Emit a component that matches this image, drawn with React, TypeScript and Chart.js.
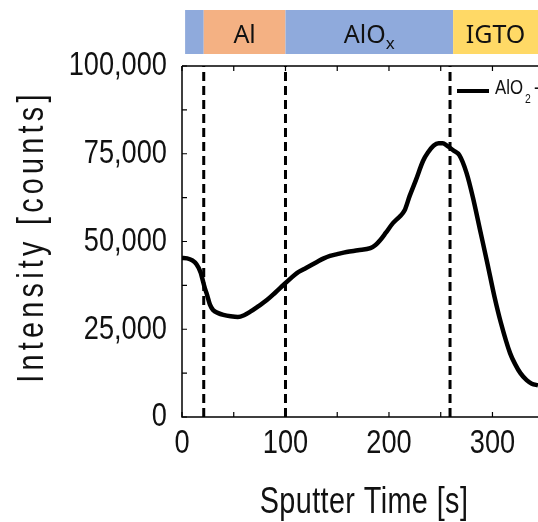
import React, { useEffect, useRef } from "react";
import { Chart, registerables } from "chart.js";

Chart.register(...registerables);

// Sputter time [s]
const timeS = [0, 5, 10, 14, 18, 20, 22, 24, 27, 30, 35, 40, 47, 54, 60, 66, 74, 82, 90, 98, 105, 111, 117, 122, 130, 137, 143, 150, 159, 170, 182, 187, 191, 197, 204, 210, 215, 220, 226, 233, 238, 243, 248, 252, 256, 262, 268, 275, 281, 288, 295, 302, 308, 317, 322, 327, 333, 338, 344];
// AlO2- intensity [counts]
const intensity = [45300, 45200, 44600, 43500, 41200, 39000, 36800, 35000, 32000, 30500, 29600, 29100, 28700, 28500, 29000, 30000, 31600, 33300, 35400, 37600, 39500, 41000, 42000, 42800, 44100, 45200, 45900, 46400, 47000, 47500, 48100, 49000, 50200, 52500, 55300, 57000, 58800, 63000, 67500, 73000, 75500, 77300, 78000, 78000, 77300, 76000, 74600, 69500, 62700, 53300, 43900, 34200, 27000, 18200, 15000, 12500, 10500, 9500, 9000];

// Interface markers (dashed lines)
const interfaceTimes = [21, 100, 259];

// Layer bar on top
const layerNames = ["", "Al", "AlO", "IGTO"];
const layerSubs = ["", "", "x", ""];
const layerStart = [3, 21, 100, 262];
const layerEnd = [21, 100, 262, 344];
const layerColors = ["#8FAADC", "#F4B183", "#8FAADC", "#FFD966"];

const xMin = 0;
const xMax = 344;
const yMin = 0;
const yMax = 100000;
const xMajor = [0, 100, 200, 300];
const xMinor = [50, 150, 250];
const yMajor = [0, 25000, 50000, 75000, 100000];
const yMinor = [12500, 37500, 62500, 87500];
const xTitle = "Sputter Time [s]";
const yTitle = "Intensity [counts]";
const legendLabel = "AlO";
const legendSub = "2";
const legendSup = "-";

const FONT = '"Liberation Sans", Arial, sans-serif';
const SQ = 0.8;

function narrow(
  ctx: CanvasRenderingContext2D,
  text: string,
  x: number,
  y: number,
  size: number,
  align: CanvasTextAlign,
  baseline: CanvasTextBaseline,
  rot = 0,
  spacing = 0
) {
  ctx.save();
  ctx.translate(x, y);
  if (rot) ctx.rotate(rot);
  ctx.scale(SQ, 1);
  ctx.font = `${size}px ${FONT}`;
  (ctx as any).letterSpacing = `${spacing}px`;
  ctx.textAlign = align;
  ctx.textBaseline = baseline;
  ctx.fillStyle = "#111";
  ctx.fillText(text, 0, 0);
  ctx.restore();
}

function narrowWidth(ctx: CanvasRenderingContext2D, text: string, size: number) {
  ctx.save();
  ctx.font = `${size}px ${FONT}`;
  const w = ctx.measureText(text).width * SQ;
  ctx.restore();
  return w;
}

const decorPlugin = {
  id: "decor",
  afterDatasetsDraw(chart: any) {
    const { ctx, chartArea: a, scales } = chart;
    const xs = scales.x;
    const ys = scales.y;
    ctx.save();
    // frame
    ctx.strokeStyle = "#000";
    ctx.lineWidth = 1.5;
    ctx.beginPath();
    ctx.moveTo(a.left, a.top);
    ctx.lineTo(a.left, a.bottom);
    ctx.lineTo(a.right, a.bottom);
    ctx.moveTo(a.left, a.top);
    ctx.lineTo(a.right, a.top);
    ctx.stroke();
    // ticks (inward)
    ctx.lineWidth = 1.2;
    ctx.beginPath();
    [...xMajor, ...xMinor].forEach((v) => {
      const px = xs.getPixelForValue(v);
      ctx.moveTo(px, a.bottom);
      ctx.lineTo(px, a.bottom - 5);
      ctx.moveTo(px, a.top);
      ctx.lineTo(px, a.top + 5);
    });
    [...yMajor, ...yMinor].forEach((v) => {
      const py = ys.getPixelForValue(v);
      ctx.moveTo(a.left, py);
      ctx.lineTo(a.left + 5, py);
    });
    ctx.stroke();

    // tick labels
    xMajor.forEach((v) => {
      narrow(ctx, String(v), xs.getPixelForValue(v), 453, 34, "center", "alphabetic");
    });
    yMajor.forEach((v) => {
      narrow(ctx, v.toLocaleString("en-US"), a.left - 15, ys.getPixelForValue(v), 34, "right", "middle");
    });

    // axis titles
    narrow(ctx, xTitle, (a.left + a.right) / 2 + 4, 513, 36, "center", "alphabetic", 0, 0.5);
    narrow(ctx, yTitle, 43, (a.top + a.bottom) / 2 - 5, 36, "center", "alphabetic", -Math.PI / 2, 5.3);

    // layer bar
    const barTop = 10;
    const barBot = 54;
    for (let i = 0; i < layerNames.length; i++) {
      const x0 = xs.getPixelForValue(layerStart[i]);
      const x1 = i === layerNames.length - 1 ? chart.width : xs.getPixelForValue(layerEnd[i]);
      ctx.fillStyle = layerColors[i];
      ctx.fillRect(x0, barTop, x1 - x0, barBot - barTop);
      if (layerNames[i]) {
        ctx.fillStyle = "#111";
        ctx.textBaseline = "alphabetic";
        const main = layerNames[i];
        const sub = layerSubs[i];
        ctx.font = '25px "Noto Sans", sans-serif';
        const wMain = ctx.measureText(main).width;
        ctx.font = '17px "Noto Sans", sans-serif';
        const wSub = sub ? ctx.measureText(sub).width : 0;
        const cx = (x0 + x1) / 2;
        const start = cx - (wMain + wSub) / 2;
        ctx.font = '25px "Noto Sans", sans-serif';
        ctx.textAlign = "left";
        ctx.fillText(main, start, 43);
        if (sub) {
          ctx.font = '17px "Noto Sans", sans-serif';
          ctx.fillText(sub, start + wMain, 49);
        }
      }
    }

    // legend
    ctx.strokeStyle = "#000";
    ctx.lineWidth = 4;
    ctx.beginPath();
    ctx.moveTo(457, 91);
    ctx.lineTo(489, 91);
    ctx.stroke();
    narrow(ctx, legendLabel, 495, 94, 21, "left", "alphabetic");
    const w = narrowWidth(ctx, legendLabel, 21);
    narrow(ctx, legendSub, 495 + w + 2, 103, 13, "left", "alphabetic");
    narrow(ctx, legendSup, 495 + w + 11, 94, 21, "left", "alphabetic");

    ctx.restore();
  },
};

export default function App() {
  const ref = useRef<HTMLCanvasElement | null>(null);
  useEffect(() => {
    document.body.style.margin = "0";
    const canvas = ref.current;
    if (!canvas) return;
    const lineData = timeS.map((t, i) => ({ x: t, y: intensity[i] }));
    const dashSets = interfaceTimes.map((t) => ({
      type: "line" as const,
      data: [
        { x: t, y: yMin },
        { x: t, y: yMax },
      ],
      borderColor: "#000",
      borderWidth: 3,
      borderDash: [9, 5],
      pointRadius: 0,
      fill: false,
    }));
    const chart = new Chart(canvas, {
      type: "line",
      data: {
        datasets: [
          {
            label: "AlO2-",
            data: lineData,
            borderColor: "#000",
            borderWidth: 4.5,
            pointRadius: 0,
            cubicInterpolationMode: "monotone",
            fill: false,
          } as any,
          ...dashSets,
        ],
      },
      options: {
        responsive: false,
        animation: false,
        layout: { padding: { top: 66, left: 0, right: 0, bottom: 0 } },
        plugins: { legend: { display: false }, tooltip: { enabled: false } },
        scales: {
          x: {
            type: "linear",
            min: xMin,
            max: xMax,
            grid: { display: false, drawTicks: false },
            border: { display: false },
            ticks: { display: false, stepSize: 100 },
            afterFit: (s: any) => {
              s.height = 105;
            },
          },
          y: {
            type: "linear",
            min: yMin,
            max: yMax,
            grid: { display: false, drawTicks: false },
            border: { display: false },
            ticks: { display: false, stepSize: 25000 },
            afterFit: (s: any) => {
              s.width = 182;
            },
          },
        },
      },
      plugins: [decorPlugin],
    });
    return () => chart.destroy();
  }, []);
  return (
    <div style={{ position: "absolute", left: 0, top: 0, width: 538, height: 522, background: "#fff" }}>
      <canvas ref={ref} width={538} height={522} style={{ width: 538, height: 522, display: "block" }} />
    </div>
  );
}
